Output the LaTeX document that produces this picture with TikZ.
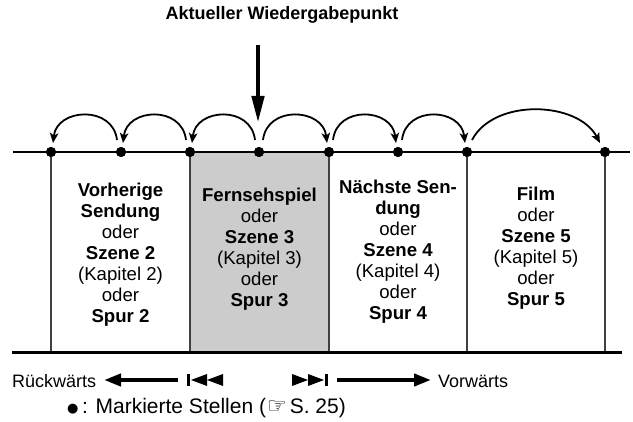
\documentclass[tikz,border=0pt]{standalone}
\usepackage{fontspec}
\setmainfont{Liberation Sans}
\newfontfamily\symfont{DejaVu Sans}
\usetikzlibrary{arrows.meta}
\tikzset{
  dot/.style={circle, fill=black, inner sep=0pt, minimum size=10pt},
  divider/.style={draw=black!75, line width=1.3pt},
  mainline/.style={line width=2pt},
  baseline line/.style={line width=3pt},
  hop/.style={line width=1.8pt, -{Stealth[length=10pt,width=8.5pt,inset=2.5pt]}},
  boxtext/.style={align=center, inner sep=0pt, font=\fontsize{18.6}{21}\selectfont},
  lbl/.style={inner sep=0pt, font=\fontsize{18}{21.4}\selectfont},
  navarrow/.style={line width=4pt, -{Triangle[length=17pt,width=12pt]}},
  bigarrow/.style={line width=4.5pt, -{Triangle[length=27pt,width=12pt]}},
}
\begin{document}
\begin{tikzpicture}[x=1pt,y=-1pt]
\useasboundingbox (0,0) rectangle (633,422);
% title and big arrow
\node[lbl, font=\fontsize{18}{21.4}\selectfont\bfseries, anchor=base] (title) at (282,20) {Aktueller Wiedergabepunkt};
\coordinate (cur top) at (258,45);
\coordinate (cur tip) at (258,123);
% gray box
\fill[gray!40] (190,152) rectangle (329,353);
% dots
\node[dot] (d1) at (51,152) {};
\node[dot] (d2) at (121,152) {};
\node[dot] (d3) at (190,152) {};
\node[dot] (d4) at (259,152) {};
\node[dot] (d5) at (329,152) {};
\node[dot] (d6) at (398,152) {};
\node[dot] (d7) at (467,152) {};
\node[dot] (d8) at (605,152) {};
% line ends
\coordinate (bl) at (12,353);
\coordinate (br) at (622,353);
\coordinate (tl) at (13,152);
\coordinate (tr) at (630,152);
% dividers
\foreach \d in {d1,d3,d5,d7,d8} \draw[divider] (\d.center) -- (\d.center |- bl);
\draw[mainline] (tl) -- (tr);
\draw[baseline line] (bl) -- (br);
% dots on top
\foreach \d in {d1,d2,d3,d4,d5,d6,d7,d8} \fill (\d) circle (5pt);
% big arrow
\draw[bigarrow] (cur top) -- (cur tip);
% hops backward
\draw[hop] ([xshift=-4pt,yshift=12pt]d2.center) .. controls +(-4,-35) and +(4,-35) .. ([xshift=2pt,yshift=9pt]d1.center);
\draw[hop] ([xshift=-4pt,yshift=12pt]d3.center) .. controls +(-4,-35) and +(4,-35) .. ([xshift=2pt,yshift=9pt]d2.center);
\draw[hop] ([xshift=-4pt,yshift=12pt]d4.center) .. controls +(-4,-35) and +(4,-35) .. ([xshift=2pt,yshift=9pt]d3.center);
% hops forward
\draw[hop] ([xshift=4pt,yshift=12pt]d4.center) .. controls +(4,-35) and +(-4,-35) .. ([xshift=-2pt,yshift=9pt]d5.center);
\draw[hop] ([xshift=4pt,yshift=12pt]d5.center) .. controls +(4,-35) and +(-4,-35) .. ([xshift=-2pt,yshift=9pt]d6.center);
\draw[hop] ([xshift=4pt,yshift=12pt]d6.center) .. controls +(4,-35) and +(-4,-35) .. ([xshift=-2pt,yshift=9pt]d7.center);
\draw[hop] ([xshift=5pt,yshift=12pt]d7.center) .. controls +(22,-42) and +(-22,-42) .. ([xshift=-5pt,yshift=9pt]d8.center);
% box texts
\node[boxtext, anchor=north] (t1) at (120.5,183) {\textbf{Vorherige}\\\textbf{Sendung}\\oder\\\textbf{Szene 2}\\(Kapitel 2)\\oder\\\textbf{Spur 2}};
\node[boxtext, anchor=north] (t2) at (259.5,188) {\textbf{Fernsehspiel}\\oder\\\textbf{Szene 3}\\(Kapitel 3)\\oder\\\textbf{Spur 3}};
\node[boxtext, anchor=north] (t3) at (398,180) {\textbf{Nächste Sen-}\\\textbf{dung}\\oder\\\textbf{Szene 4}\\(Kapitel 4)\\oder\\\textbf{Spur 4}};
\node[boxtext, anchor=north] (t4) at (536,187) {\textbf{Film}\\oder\\\textbf{Szene 5}\\(Kapitel 5)\\oder\\\textbf{Spur 5}};
% bottom navigation
\node[lbl, anchor=base west] (rw) at (12,388) {Rückwärts};
\node[lbl, anchor=base west] (vw) at (438,388) {Vorwärts};
\coordinate (la tail) at (178,380);
\coordinate (la tip) at (104,380);
\coordinate (ra tail) at (337,380);
\coordinate (ra tip) at (431,380);
\draw[navarrow] (la tail) -- (la tip);
\draw[navarrow] (ra tail) -- (ra tip);
% skip back symbol
\fill (187,374) rectangle (190,386);
\fill (191,380) -- (207,374) -- (207,386) -- cycle;
\fill (207,380) -- (223,374) -- (223,386) -- cycle;
% skip forward symbol
\fill (292,374) -- (308,380) -- (292,386) -- cycle;
\fill (308,374) -- (324,380) -- (308,386) -- cycle;
\fill (325,374) rectangle (328,386);
% legend
\node[lbl, font=\fontsize{21}{24}\selectfont, anchor=base west] (legend) at (67,414) {\raisebox{1.5pt}{\symfont\fontsize{13}{15}\selectfont●}\,: Markierte Stellen (\kern1pt{\symfont\fontsize{22}{23}\selectfont\bfseries ☞}\kern3pt S. 25)};
\end{tikzpicture}
\end{document}
